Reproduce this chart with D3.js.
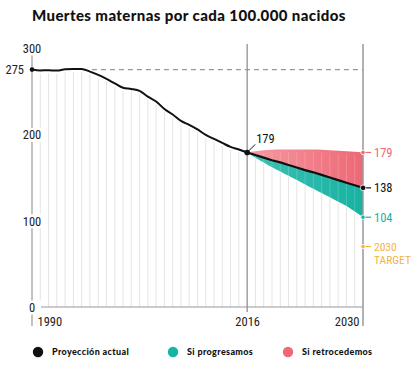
<!DOCTYPE html>
<html>
<head>
<meta charset="utf-8">
<script src="https://cdn.jsdelivr.net/npm/d3@7"></script>
<style>
  body { margin: 0; background: #fff; }
  svg { display: block; }
  .num { font-family: "Liberation Sans Narrow", "Roboto", sans-serif; font-stretch: condensed; font-size: 12.5px; }
</style>
</head>
<body>
<script>
// historical values, 1990-2016
var histYears = d3.range(1990, 2017);
var histValues = [275, 274, 274.3, 273.8, 275.4, 275.8, 275.8, 272.7, 268.8, 264.2, 259, 254, 252.6, 250.3,
                  243.7, 238, 229.4, 223, 215.5, 211, 205.7, 199.3, 194.7, 190, 185.4, 182.5, 179];

// projections, 2016-2030
var projYears = d3.range(2016, 2031);
var projActual = [179, 176, 173, 170, 167.5, 164.5, 161.5, 158.5, 156, 153, 150, 147, 144, 141, 138];
var projBetter = [179, 173, 167.5, 162, 157, 152, 147, 142, 137, 132, 127, 122, 117, 110.5, 104];
var projWorse = [179, 180.5, 181.5, 182, 182.3, 182.5, 182.5, 182.5, 182.3, 182, 181.6, 181, 180.4, 179.8, 179];

var target = 70;
var yTicks = [0, 100, 200, 300];
var xTicks = [1990, 2016, 2030];
var legendLabels = ["Proyección actual", "Si progresamos", "Si retrocedemos"];

var colActual = "#111", colBetter = "#17b3a3", colWorse = "#ee6876", colTarget = "#f1b445";

var w = 414, h = 367;

var x = d3.scaleLinear().domain([1990, 2030]).range([32, 363]);
var y = d3.scaleLinear().domain([0, 300]).range([307, 48]);

var svg = d3.select("body").append("svg")
    .attr("width", w)
    .attr("height", h);

var defs = svg.append("defs");
var gW = defs.append("linearGradient").attr("id", "gWorse");
gW.append("stop").attr("offset", "0%").attr("stop-color", "#f59aa2");
gW.append("stop").attr("offset", "100%").attr("stop-color", colWorse);
var gB = defs.append("linearGradient").attr("id", "gBetter");
gB.append("stop").attr("offset", "0%").attr("stop-color", "#3fc0b2");
gB.append("stop").attr("offset", "100%").attr("stop-color", colBetter);
var blur = defs.append("filter").attr("id", "soft").attr("x", "-2").attr("width", "5");
blur.append("feGaussianBlur").attr("stdDeviation", 1);

// title
svg.append("text")
    .attr("x", 32).attr("y", 21)
    .style("font-family", "Lato, sans-serif")
    .style("font-weight", 900)
    .style("font-size", "15px")
    .style("letter-spacing", "0.4px")
    .style("fill", "#111")
    .text("Muertes maternas por cada 100.000 nacidos");

// projection areas
var idx = d3.range(projYears.length);
svg.append("path")
    .attr("d", d3.area().x(function(i) { return x(projYears[i]); })
        .y0(function(i) { return y(projActual[i]); })
        .y1(function(i) { return y(projWorse[i]); })
        .curve(d3.curveMonotoneX)(idx))
    .attr("fill", "url(#gWorse)");
svg.append("path")
    .attr("d", d3.area().x(function(i) { return x(projYears[i]); })
        .y0(function(i) { return y(projBetter[i]); })
        .y1(function(i) { return y(projActual[i]); })
        .curve(d3.curveMonotoneX)(idx))
    .attr("fill", "url(#gBetter)");

// vertical year lines, from the top value down to zero
var topValue = function(yr) {
    return yr <= 2016 ? histValues[yr - 1990] : projWorse[yr - 2016];
};
svg.append("g").selectAll("line")
    .data(d3.range(1991, 2030).filter(function(d) { return d !== 2016; }))
    .enter().append("line")
    .attr("x1", function(d) { return x(d); })
    .attr("x2", function(d) { return x(d); })
    .attr("y1", function(d) { return y(topValue(d)) + 3; })
    .attr("y2", y(0))
    .attr("stroke", function(d) { return d > 2016 ? "rgba(255,255,255,0.18)" : "#e4e4e4"; })
    .attr("stroke-width", 1);
svg.append("g").selectAll("line")
    .data(d3.range(2017, 2030))
    .enter().append("line")
    .attr("x1", function(d) { return x(d); })
    .attr("x2", function(d) { return x(d); })
    .attr("y1", function(d) { return y(projBetter[d - 2016]) + 1; })
    .attr("y2", y(0))
    .attr("stroke", "#e4e4e4");

// dashed reference at 275
svg.append("line")
    .attr("x1", x(1997) + 2).attr("x2", x(2030))
    .attr("y1", y(275)).attr("y2", y(275))
    .attr("stroke", "#999").attr("stroke-width", 1.2)
    .attr("stroke-dasharray", "5,4");

// x baseline
svg.append("line")
    .attr("x1", 38).attr("x2", x(2030))
    .attr("y1", y(0)).attr("y2", y(0))
    .attr("stroke", "#999").attr("stroke-width", 1.2);

// left axis line + 1990 tick
svg.append("line")
    .attr("x1", x(1990)).attr("x2", x(1990))
    .attr("y1", y(300)).attr("y2", 326)
    .attr("stroke", "#999").attr("stroke-width", 1.2);

// right axis line at 2030
svg.append("line")
    .attr("x1", x(2030)).attr("x2", x(2030))
    .attr("y1", 44).attr("y2", 326)
    .attr("stroke", "#999").attr("stroke-width", 1.5);

// 2016 line
svg.append("line")
    .attr("x1", x(2016)).attr("x2", x(2016))
    .attr("y1", 44).attr("y2", 312)
    .attr("stroke", "#aaa").attr("stroke-width", 4)
    .attr("filter", "url(#soft)");
svg.append("line")
    .attr("x1", x(2016)).attr("x2", x(2016))
    .attr("y1", 44).attr("y2", 312)
    .attr("stroke", "#888").attr("stroke-width", 1.2);

// y axis labels
var yAxis = d3.axisLeft(y).tickValues(yTicks).tickSize(0);
var yg = svg.append("g")
    .attr("transform", "translate(" + x(1990) + ",0)")
    .call(yAxis);
yg.select(".domain").remove();
yg.selectAll(".tick").insert("rect", "text")
    .attr("x", -9).attr("y", -7).attr("width", 18).attr("height", 14)
    .attr("fill", "#fff");
yg.selectAll(".tick text")
    .attr("class", "num")
    .attr("x", 0).attr("dy", "0.36em")
    .style("text-anchor", "middle")
    .style("fill", "#222")
    .style("font-family", null).style("font-size", null);

// 275 label
svg.append("circle").attr("cx", x(1990)).attr("cy", y(275)).attr("r", 2.3).attr("fill", "#111");
svg.append("text").attr("class", "num")
    .attr("x", 24).attr("y", y(275)).attr("dy", "0.36em")
    .attr("text-anchor", "end").attr("fill", "#222")
    .text("275");

// x axis labels
var xAxis = d3.axisBottom(x).tickValues(xTicks).tickSize(0).tickFormat(d3.format("d"));
var xg = svg.append("g")
    .attr("transform", "translate(0," + y(0) + ")")
    .call(xAxis);
xg.select(".domain").remove();
xg.selectAll(".tick text")
    .attr("class", "num")
    .attr("y", 10)
    .style("fill", "#222")
    .style("font-family", null).style("font-size", null)
    .style("text-anchor", function(d) { return d === 1990 ? "start" : d === 2030 ? "end" : "middle"; })
    .attr("x", function(d) { return d === 1990 ? 5 : d === 2030 ? -4 : 0; });

// historical line
svg.append("path")
    .datum(histValues)
    .attr("d", d3.line()
        .x(function(d, i) { return x(histYears[i]); })
        .y(function(d) { return y(d); })
        .curve(d3.curveMonotoneX))
    .attr("fill", "none")
    .attr("stroke", colActual)
    .attr("stroke-width", 2);

// projected actual line
svg.append("path")
    .datum(projActual)
    .attr("d", d3.line()
        .x(function(d, i) { return x(projYears[i]); })
        .y(function(d) { return y(d); }))
    .attr("fill", "none")
    .attr("stroke", colActual)
    .attr("stroke-width", 2.2);

// 2016 marker
svg.append("circle").attr("cx", x(2016)).attr("cy", y(179)).attr("r", 2.8).attr("fill", "#111");
svg.append("line")
    .attr("x1", x(2016)).attr("y1", y(179))
    .attr("x2", x(2016) + 8).attr("y2", y(179) - 8)
    .attr("stroke", "#111").attr("stroke-width", 1);
svg.append("text").attr("class", "num")
    .attr("x", x(2016) + 9).attr("y", y(179) - 9)
    .attr("fill", "#111")
    .text("179");

// right-side end labels
var ends = [
    { v: projWorse[14], c: colWorse, t: ["179"], r: 2.2 },
    { v: projActual[14], c: colActual, t: ["138"], r: 2.8 },
    { v: projBetter[14], c: colBetter, t: ["104"], r: 2.2 },
    { v: target, c: colTarget, t: ["2030", "TARGET"], r: 2.2 }
];
var eg = svg.append("g").selectAll("g").data(ends).enter().append("g")
    .attr("transform", function(d) { return "translate(" + x(2030) + "," + y(d.v) + ")"; });
eg.append("line").attr("x1", 0).attr("x2", 8).attr("y1", 0).attr("y2", 0)
    .attr("stroke", function(d) { return d.c; }).attr("stroke-width", 1.2);
eg.append("circle").attr("r", function(d) { return d.r; })
    .attr("fill", function(d) { return d.c; })
    .attr("stroke", "#fff").attr("stroke-width", 0.8);
eg.each(function(d) {
    var g = d3.select(this);
    d.t.forEach(function(line, i) {
        g.append("text").attr("class", "num")
            .attr("x", 11).attr("y", i * 13.5)
            .attr("dy", "0.36em")
            .style("font-size", d.t.length > 1 ? "11.5px" : null)
            .attr("fill", d.c)
            .text(line);
    });
});

// legend
var legendX = [38, 173, 288];
var legendCols = [colActual, colBetter, colWorse];
var lg = svg.append("g").selectAll("g").data(legendLabels).enter().append("g")
    .attr("transform", function(d, i) { return "translate(" + legendX[i] + ",352)"; });
lg.append("circle").attr("r", 5.2).attr("fill", function(d, i) { return legendCols[i]; });
lg.append("text")
    .attr("x", 14).attr("dy", "0.35em")
    .style("font-family", "Lato, sans-serif")
    .style("font-weight", 900)
    .style("font-size", "9px")
    .style("letter-spacing", "0.35px")
    .style("fill", "#111")
    .text(function(d) { return d; });
</script>
</body>
</html>
